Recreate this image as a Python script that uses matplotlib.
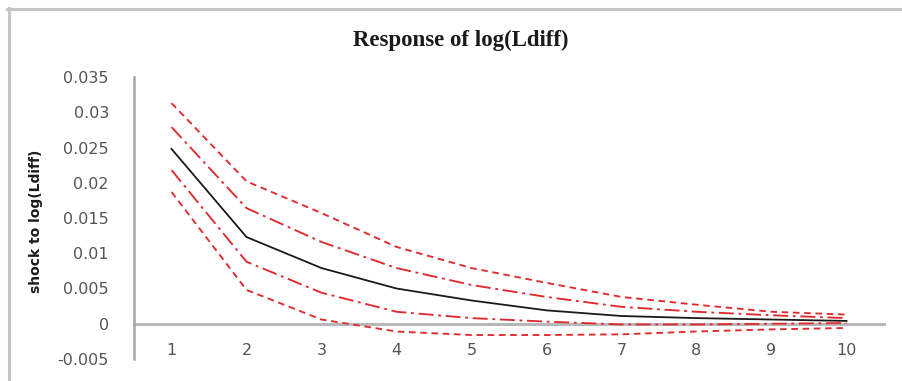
import matplotlib
matplotlib.use("Agg")
import matplotlib.pyplot as plt
from matplotlib.lines import Line2D

periods = [1, 2, 3, 4, 5, 6, 7, 8, 9, 10]
response = [0.0248, 0.0123, 0.0079, 0.0050, 0.0033, 0.0019, 0.0011, 0.0008, 0.0006, 0.0004]
upper_outer = [0.0313, 0.0202, 0.0157, 0.0109, 0.0079, 0.0058, 0.0038, 0.0027, 0.0017, 0.0013]
upper_inner = [0.0279, 0.0164, 0.0116, 0.0079, 0.0055, 0.0038, 0.0024, 0.0017, 0.0012, 0.0008]
lower_inner = [0.0218, 0.0088, 0.0044, 0.0017, 0.0008, 0.0003, -0.0001, -0.0001, 0.0000, 0.0001]
lower_outer = [0.0187, 0.0048, 0.0006, -0.0011, -0.0016, -0.0016, -0.0015, -0.0011, -0.0008, -0.0006]
yticks = [-0.005, 0, 0.005, 0.01, 0.015, 0.02, 0.025, 0.03, 0.035]
ytick_labels = ["-0.005", "0", "0.005", "0.01", "0.015", "0.02", "0.025", "0.03", "0.035"]
title = "Response of log(Ldiff)"
ylabel = "shock to log(Ldiff)"

W, H = 902, 381
fig = plt.figure(figsize=(W / 100, H / 100), dpi=100)
fig.patch.set_facecolor("white")

ax = fig.add_axes([134 / W, (H - 359) / H, 750 / W, 282 / H])
red = "#e02a2e"
ax.plot(periods, upper_outer, color=red, lw=1.35, dashes=(3.5, 2.5))
ax.plot(periods, lower_outer, color=red, lw=1.35, dashes=(3.5, 2.5))
ax.plot(periods, upper_inner, color=red, lw=1.35, dashes=(8, 2.5, 1.5, 2.5))
ax.plot(periods, lower_inner, color=red, lw=1.35, dashes=(8, 2.5, 1.5, 2.5))
ax.plot(periods, response, color="#1a1a1a", lw=1.3)

ax.set_xlim(0.5, 10.5)
ax.set_ylim(-0.005, 0.035)
ax.set_xticks(periods)
ax.set_xticklabels([str(p) for p in periods])
ax.set_yticks(yticks)
ax.set_yticklabels(ytick_labels)

for s in ["top", "right"]:
    ax.spines[s].set_visible(False)
ax.spines["left"].set_color("#a6a6a6")
ax.spines["left"].set_linewidth(1.8)
ax.spines["bottom"].set_position(("data", 0))
ax.spines["bottom"].set_color("#b8b8b8")
ax.spines["bottom"].set_linewidth(2.2)
ax.spines["bottom"].set_zorder(0.5)

ax.tick_params(axis="both", length=0, labelsize=11.5, labelcolor="#555555")
ax.tick_params(axis="x", pad=14)
ax.tick_params(axis="y", pad=18)
ax.set_ylabel(ylabel, fontsize=10, fontweight="bold", color="#1a1a1a")
ax.yaxis.set_label_coords(-91 / 750, 0.49)

fig.text(461 / W, 1 - 40 / H, title, ha="center", va="center",
         fontsize=16.5, fontweight="bold", family="Liberation Serif", color="#1a1a1a")

# outer frame
fig.add_artist(Line2D([8.5 / W, 8.5 / W], [0, 1 - 8 / H], transform=fig.transFigure,
                      color="#c4c4c4", lw=2.2))
fig.add_artist(Line2D([7 / W, 1], [1 - 9 / H, 1 - 9 / H], transform=fig.transFigure,
                      color="#c4c4c4", lw=2.2))

fig.savefig("out.png", dpi=100, facecolor="white")
